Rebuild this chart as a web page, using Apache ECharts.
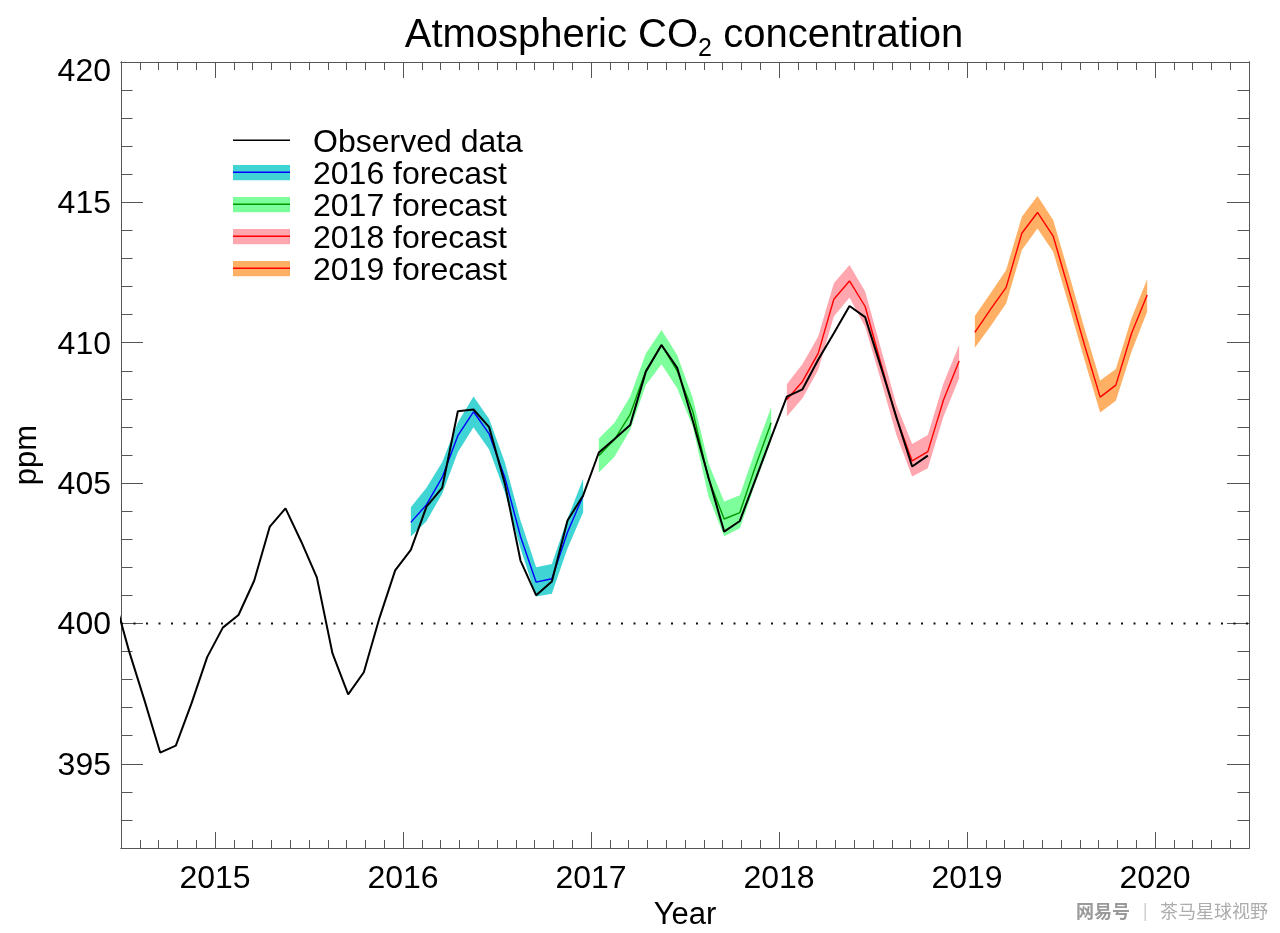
<!DOCTYPE html>
<html>
<head>
<meta charset="utf-8">
<title>Atmospheric CO2 concentration</title>
<script src="https://cdn.jsdelivr.net/npm/echarts@6/dist/echarts.min.js"></script>
<style>
    html, body { margin: 0; padding: 0; background: #fff; }
    #container { width: 1280px; height: 933px; }
</style>
</head>
<body>
<div id="container"></div>
<script>
    const FONT = '"Liberation Sans", Arial, sans-serif';

    // ppm, monthly, first value is June 2014 (sits just left of the frame and gets clipped)
    const observed = [
        401.05, 399.04, 397.26, 395.4, 395.65, 397.15, 398.8,
        399.85, 400.3, 401.52, 403.45, 404.1, 402.92, 401.64, 398.93, 397.47, 398.26, 400.2, 401.89,
        402.62, 404.16, 404.83, 407.56, 407.62, 406.99, 404.98, 402.24, 401.0, 401.49, 403.67, 404.56,
        406.09, 406.57, 407.07, 408.97, 409.92, 409.11, 407.21, 405.2, 403.27, 403.65, 405.13, 406.62,
        408.08, 408.34, 409.39, 410.34, 411.31, 410.91, 409.15, 407.33, 405.59, 405.98
    ];

    const forecast2016 = [403.6, 404.23, 405.2, 406.69, 407.54, 406.75, 405.2, 403.1, 401.47, 401.59, 403.25, 404.55];
    const upper2016 = [404.14, 404.83, 405.74, 407.16, 408.08, 407.28, 405.74, 403.67, 402.0, 402.12, 403.73, 405.15];
    const lower2016 = [403.1, 403.64, 404.62, 406.1, 406.99, 406.2, 404.67, 402.67, 400.96, 401.06, 402.67, 403.96];

    const forecast2017 = [405.98, 406.55, 407.45, 409.0, 409.92, 409.0, 407.55, 405.15, 403.72, 403.95, 405.6, 407.15];
    const upper2017 = [406.59, 407.15, 408.08, 409.62, 410.45, 409.56, 408.02, 405.7, 404.34, 404.57, 406.18, 407.7];
    const lower2017 = [405.38, 405.94, 406.89, 408.49, 409.23, 408.38, 407.01, 404.52, 403.11, 403.39, 405.0, 406.51];

    const forecast2018 = [407.98, 408.62, 409.62, 411.55, 412.2, 411.29, 409.27, 407.31, 405.79, 406.12, 407.96, 409.35];
    const upper2018 = [408.52, 409.24, 410.22, 412.12, 412.77, 411.82, 409.8, 407.78, 406.39, 406.71, 408.56, 409.92];
    const lower2018 = [407.37, 408.02, 409.03, 410.93, 411.61, 410.57, 408.67, 406.7, 405.23, 405.53, 407.37, 408.73];

    const forecast2019 = [410.37, 411.19, 411.97, 413.9, 414.64, 413.8, 411.88, 409.92, 408.06, 408.49, 410.33, 411.7];
    const upper2019 = [410.95, 411.76, 412.59, 414.49, 415.23, 414.37, 412.47, 410.51, 408.65, 409.06, 410.87, 412.26];
    const lower2019 = [409.82, 410.59, 411.4, 413.3, 414.07, 413.24, 411.34, 409.38, 407.51, 407.93, 409.68, 411.1];

    const yearTicks = [2015, 2016, 2017, 2018, 2019, 2020];
    const ppmTicks = [395, 400, 405, 410, 415, 420];
    const legendNames = ['Observed data', '2016 forecast', '2017 forecast', '2018 forecast', '2019 forecast'];
    const referenceLevel = 400;

    const X_MIN = 2014.5, X_MAX = 2020.5;
    const Y_MIN = 392, Y_MAX = 420;

    // mid-month position on the year axis, month counted from January of startYear
    function monthly(values, startYear, startMonth) {
        return values.map((v, i) => [startYear + (startMonth + i + 0.5) / 12, v]);
    }

    function bandSeries(name, color, year, upper, lower) {
        const xs = upper.map((v, i) => year + (i + 0.5) / 12);
        return {
            type: 'custom',
            name: name,
            coordinateSystem: 'cartesian2d',
            itemStyle: { color: color },
            silent: true,
            z: 2,
            data: xs.map((x, i) => [x, lower[i], upper[i]]),
            encode: { x: 0, y: [1, 2] },
            renderItem: function (params, api) {
                if (params.dataIndex !== 0) {
                    return null;
                }
                const top = xs.map((x, i) => api.coord([x, upper[i]]));
                const bottom = xs.map((x, i) => api.coord([x, lower[i]])).reverse();
                return {
                    type: 'polygon',
                    shape: { points: top.concat(bottom) },
                    style: { fill: color }
                };
            }
        };
    }

    function lineSeries(name, color, width, data, z) {
        return {
            type: 'line',
            name: name,
            data: data,
            symbol: 'none',
            silent: true,
            z: z,
            lineStyle: { color: color, width: width },
            itemStyle: { color: color }
        };
    }

    const axisLine = { show: true, onZero: false, lineStyle: { color: '#555', width: 1 } };

    // frame side with long ticks and, when asked, labels
    function majorAxis(position, min, max, ticks, tickLength, labelMargin, extra) {
        return Object.assign({
            type: 'value', position: position, min: min, max: max, interval: 1,
            axisLine: axisLine,
            splitLine: { show: false },
            axisTick: { show: true, inside: true, length: tickLength, customValues: ticks, lineStyle: { color: '#555', width: 1 } },
            axisLabel: labelMargin === null ? { show: false } : {
                show: true, customValues: ticks, margin: labelMargin,
                // the top label of the frame sits a little below its tick
                formatter: v => (v === Y_MAX ? '{low|' + v + '}' : String(v)),
                rich: { low: { fontFamily: FONT, fontSize: 32, color: '#000', padding: [16, 0, 0, 0] } },
                padding: [4, 0, 0, 0],
                color: '#000', fontFamily: FONT, fontSize: 32
            }
        }, extra);
    }

    // frame side with the short ticks only
    function minorAxis(position, min, max, interval, tickLength) {
        return {
            type: 'value', position: position, min: min, max: max, interval: interval,
            axisLine: axisLine,
            splitLine: { show: false },
            axisTick: { show: true, inside: true, length: tickLength, lineStyle: { color: '#555', width: 1 } },
            axisLabel: { show: false }
        };
    }

    const option = {
        backgroundColor: '#fff',
        animation: false,
        title: {
            text: '{a|Atmospheric CO}{s|2}{a| concentration}',
            left: 679,
            top: 11,
            textAlign: 'center',
            textStyle: {
                fontWeight: 'normal',
                rich: {
                    a: { fontFamily: FONT, fontWeight: 'normal', fontSize: 40, color: '#000', lineHeight: 46, verticalAlign: 'top' },
                    s: { fontFamily: FONT, fontWeight: 'normal', fontSize: 25, color: '#000', lineHeight: 18, verticalAlign: 'top', padding: [21, 0, 0, 0] }
                }
            }
        },
        grid: { left: 121, right: 31, top: 62, bottom: 85, outerBoundsMode: 'none' },
        xAxis: [
            majorAxis('bottom', X_MIN, X_MAX, yearTicks, 16, 11, {
                name: 'Year', nameLocation: 'middle', nameGap: 50,
                nameTextStyle: { color: '#000', fontFamily: FONT, fontSize: 31 }
            }),
            minorAxis('bottom', X_MIN, X_MAX, 0.1, 8),
            majorAxis('top', X_MIN, X_MAX, yearTicks, 16, null),
            minorAxis('top', X_MIN, X_MAX, 0.1, 8)
        ],
        yAxis: [
            majorAxis('left', Y_MIN, Y_MAX, ppmTicks, 22, 10, {
                name: 'ppm', nameLocation: 'middle', nameGap: 78,
                nameTextStyle: { color: '#000', fontFamily: FONT, fontSize: 31 }
            }),
            minorAxis('left', Y_MIN, Y_MAX, 1, 11.5),
            majorAxis('right', Y_MIN, Y_MAX, ppmTicks, 22, null),
            minorAxis('right', Y_MIN, Y_MAX, 1, 11.5)
        ],
        legend: [
            {
                // colour swatches
                data: ['2016 band', '2017 band', '2018 band', '2019 band'],
                orient: 'vertical', left: 233, top: 165, padding: 0, z: 3,
                itemWidth: 57, itemHeight: 15.3, itemGap: 16.7,
                icon: 'rect', selectedMode: false,
                formatter: () => '',
                textStyle: { fontSize: 1 }
            },
            {
                // line samples on top of the swatches
                data: legendNames,
                orient: 'vertical', left: 233, top: 139.6, padding: 0, z: 4,
                itemWidth: 57, itemHeight: 1.4, itemGap: 30.6,
                icon: 'rect', selectedMode: false,
                formatter: () => '',
                textStyle: { fontSize: 1 }
            },
            {
                // text only, its own icons are transparent
                data: legendNames,
                orient: 'vertical', left: 233, top: 127, padding: 0, z: 4,
                itemWidth: 57, itemHeight: 1.4, itemGap: 0,
                icon: 'rect', selectedMode: false,
                itemStyle: { color: 'transparent', opacity: 0 },
                textStyle: { color: '#000', fontFamily: FONT, fontSize: 32, lineHeight: 32, padding: [0, 0, 0, 18] }
            }
        ],
        graphic: [
            {
                type: 'text', left: 1076, top: 902, silent: true,
                style: { text: '网易号', fill: '#9a9a9a', font: 'bold 18px "Noto Sans CJK SC"' }
            },
            {
                type: 'text', left: 1143, top: 902, silent: true,
                style: { text: '|', fill: '#bdbdbd', font: '16px "Noto Sans CJK SC"' }
            },
            {
                type: 'text', left: 1160, top: 902, silent: true,
                style: { text: '茶马星球视野', fill: '#adadad', font: '18px "Noto Sans CJK SC"' }
            }
        ],
        series: [
            bandSeries('2016 band', '#40d4d4', 2016, upper2016, lower2016),
            bandSeries('2017 band', '#7dff9b', 2017, upper2017, lower2017),
            bandSeries('2018 band', '#ffa6ae', 2018, upper2018, lower2018),
            bandSeries('2019 band', '#ffb064', 2019, upper2019, lower2019),
            lineSeries('2016 forecast', '#0000ff', 1.4, monthly(forecast2016, 2016, 0), 3),
            lineSeries('2017 forecast', '#009a00', 1.4, monthly(forecast2017, 2017, 0), 3),
            lineSeries('2018 forecast', '#ff0000', 1.4, monthly(forecast2018, 2018, 0), 3),
            lineSeries('2019 forecast', '#ff0000', 1.4, monthly(forecast2019, 2019, 0), 3),
            {
                type: 'line',
                name: 'reference',
                data: [[X_MIN, referenceLevel], [X_MAX, referenceLevel]],
                symbol: 'none', silent: true, z: 3,
                lineStyle: { color: '#111', width: 2, type: [2, 10.5] }
            },
            lineSeries('Observed data', '#000', 2, monthly(observed, 2014, 5), 4)
        ]
    };

    const chart = echarts.init(document.getElementById('container'), null, { renderer: 'canvas' });
    chart.setOption(option);
</script>
</body>
</html>
